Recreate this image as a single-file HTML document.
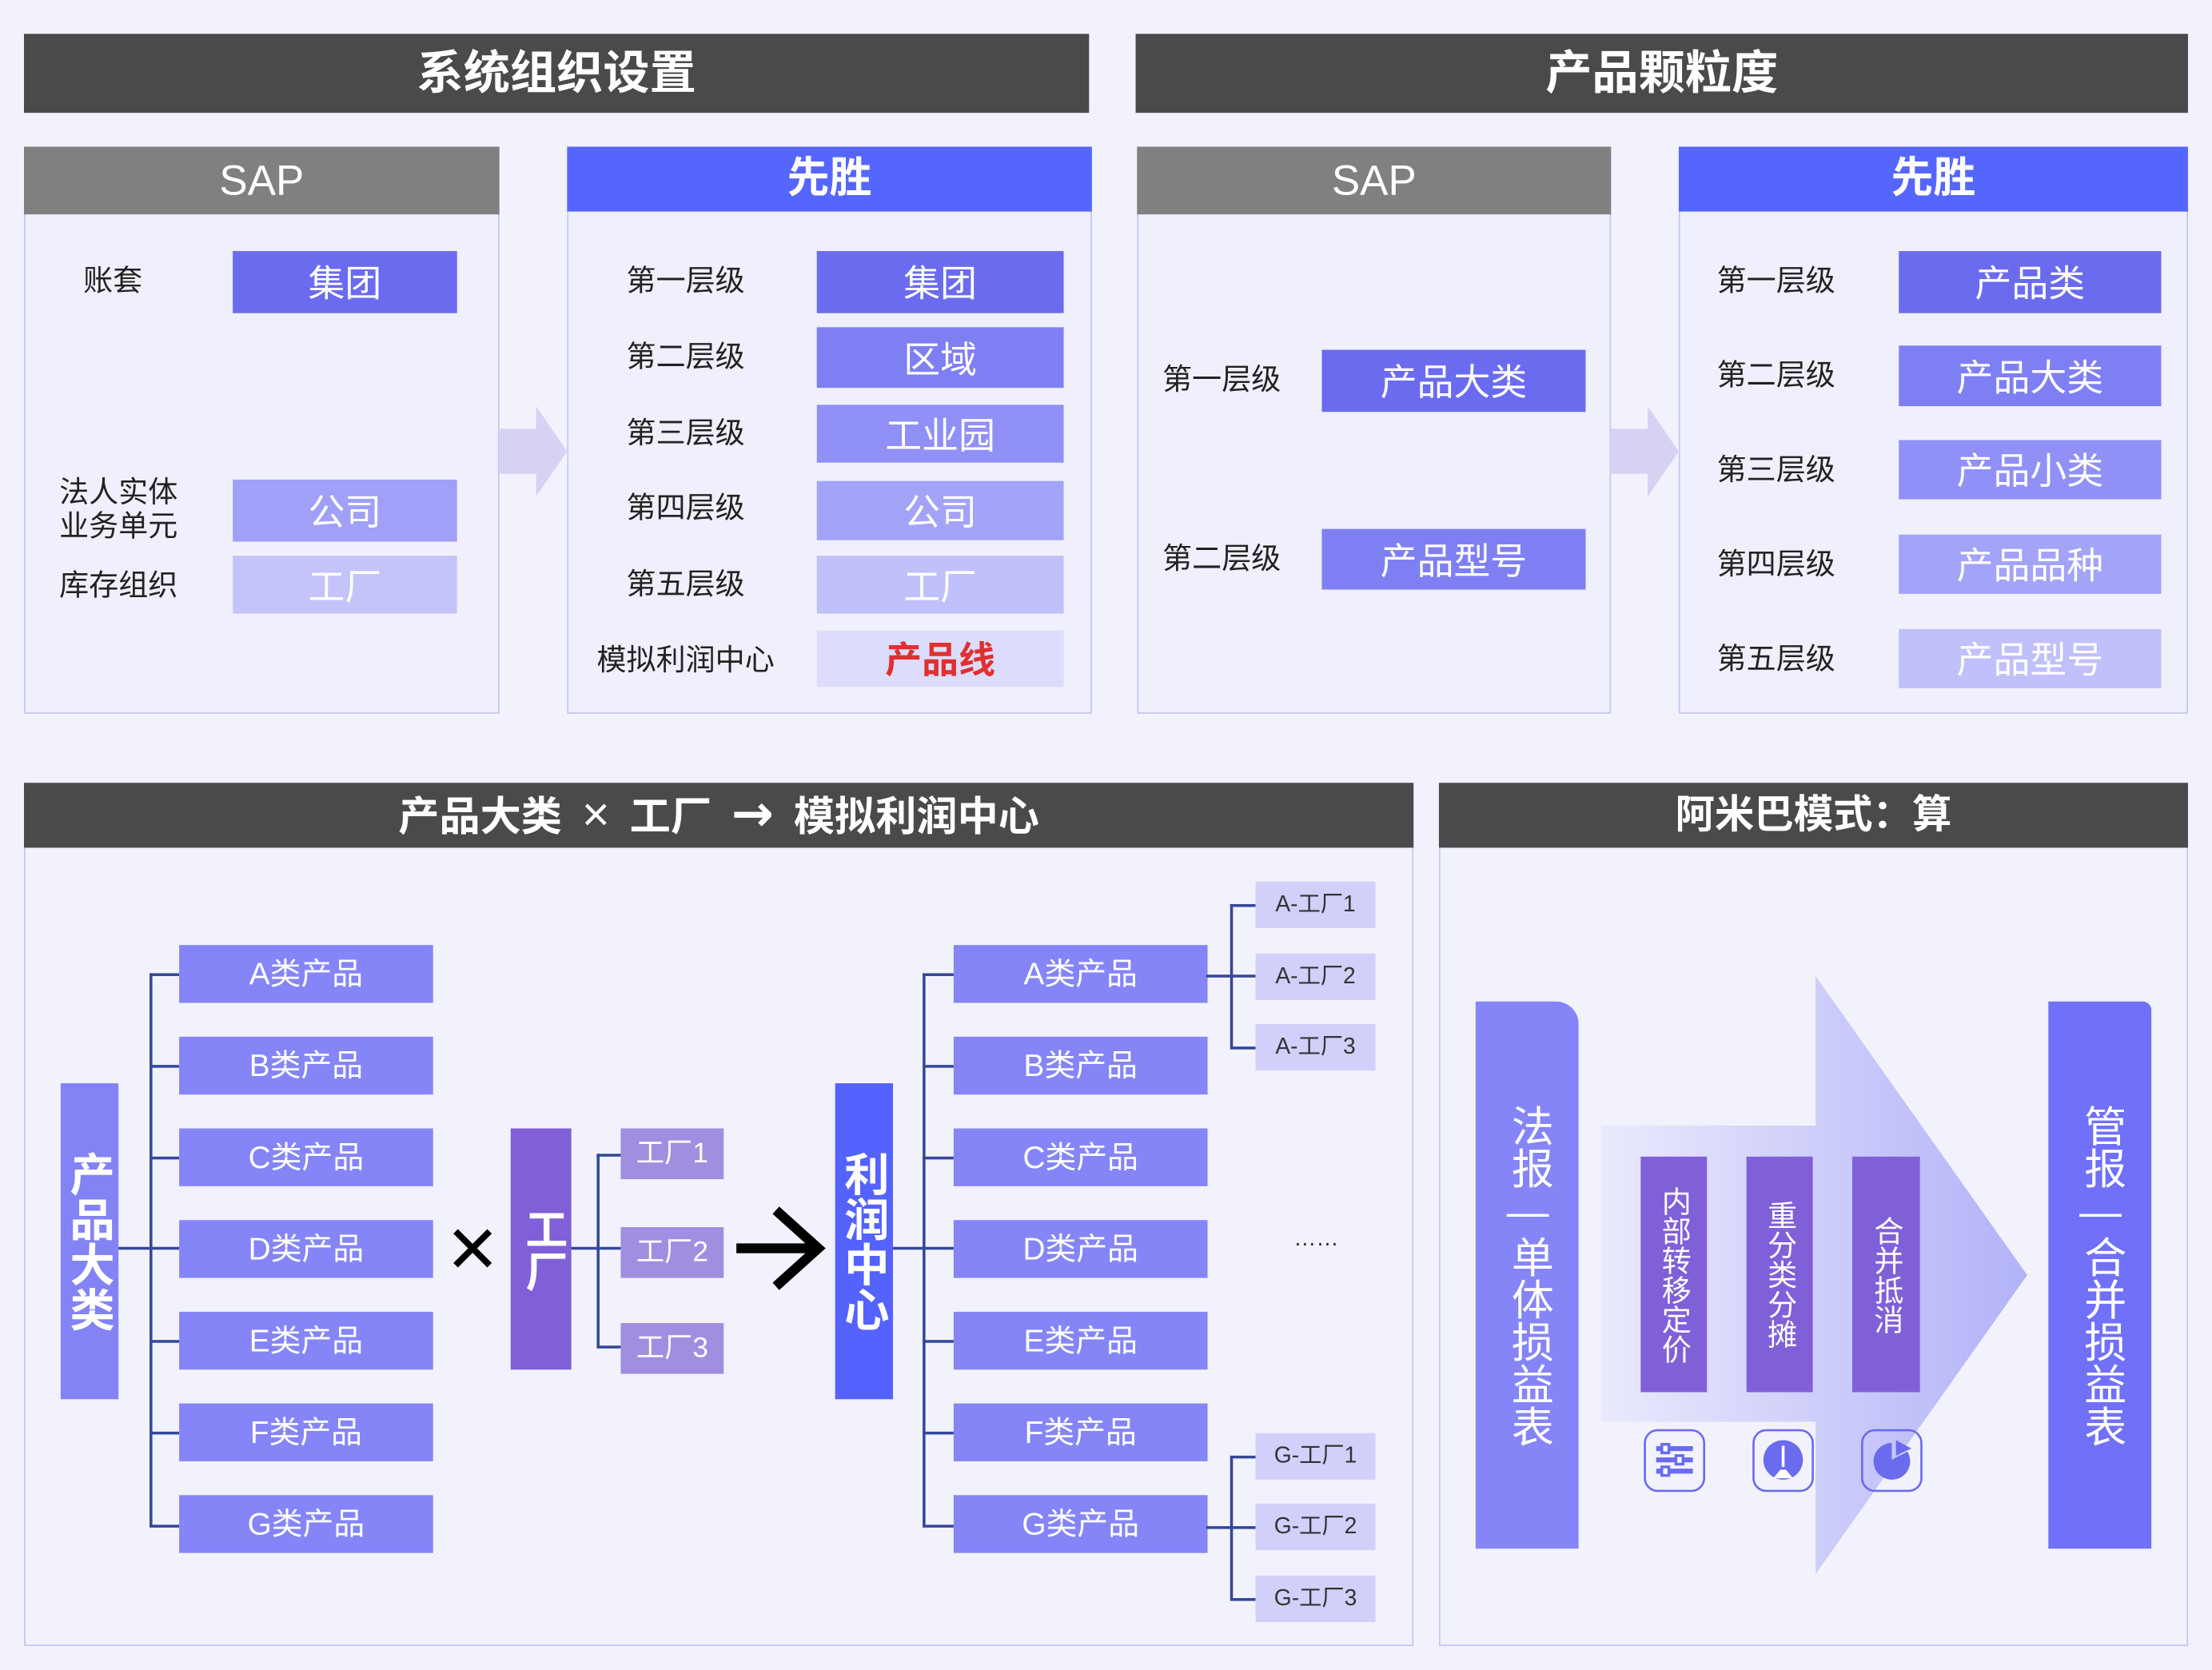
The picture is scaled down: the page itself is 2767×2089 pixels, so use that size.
<!DOCTYPE html>
<html><head><meta charset="utf-8">
<style>
html,body{margin:0;padding:0;width:2767px;height:2089px;overflow:hidden;background:#f2f2fd;}
#s{position:absolute;left:0;top:0;width:1568px;height:1184px;transform:scale(1.76467,1.7644);transform-origin:0 0;font-family:"Liberation Sans","Noto Sans CJK SC",sans-serif;}
#s div{position:absolute;box-sizing:border-box;}
.hd{background:#4a4a4c;color:#fff;font-weight:bold;text-align:center;}
.pn{background:#f0f0fc;border:1.5px solid #c6c6f2;}
.ph{color:#fff;text-align:center;}
.lb{font-size:21px;color:#222;text-align:center;line-height:24px;}
.bx{color:#fff;text-align:center;font-size:26px;}
.vt{writing-mode:vertical-rl;text-orientation:upright;color:#fff;display:flex;align-items:center;justify-content:center;}
.pb{background:#8585f8;color:#fff;font-size:22px;text-align:center;line-height:41px;height:41px;width:180px;}
.fb{background:#d0d0fa;color:#333;font-size:16px;text-align:center;line-height:33px;height:33px;width:85px;left:890px;}
.ln{background:#34479a;}
</style></head><body><div id="s">
<div class="hd" style="left:17px;top:24px;width:755px;height:56px;line-height:56px;font-size:33px;">系统组织设置</div>
<div class="hd" style="left:805px;top:24px;width:746px;height:56px;line-height:56px;font-size:33px;">产品颗粒度</div>

<div class="pn" style="left:17px;top:104px;width:337px;height:402px;"></div>
<div class="ph" style="left:17px;top:104px;width:337px;height:48px;line-height:50px;background:#808080;font-size:30px;">SAP</div>
<div class="lb" style="left:40px;top:188px;width:80px;">账套</div>
<div class="bx" style="left:165px;top:178px;width:159px;height:44px;line-height:46px;background:#6b6bf0;">集团</div>
<div class="lb" style="left:30px;top:338px;width:108px;line-height:24px;">法人实体<br>业务单元</div>
<div class="bx" style="left:165px;top:340px;width:159px;height:44px;line-height:46px;background:#a0a0f8;">公司</div>
<div class="lb" style="left:30px;top:404px;width:108px;">库存组织</div>
<div class="bx" style="left:165px;top:394px;width:159px;height:41px;line-height:44px;background:#c4c4fa;">工厂</div>

<svg style="position:absolute;left:354px;top:288px" width="48" height="64"><polygon points="0,16 26,16 26,0 48,32 26,64 26,48 0,48" fill="#d6d2f4"/></svg>

<div class="pn" style="left:402px;top:104px;width:372px;height:402px;"></div>
<div class="ph" style="left:402px;top:104px;width:372px;height:46px;line-height:46px;background:#5566ff;font-size:30px;font-weight:bold;">先胜</div>
<div class="lb" style="left:410px;top:188px;width:152px;">第一层级</div>
<div class="lb" style="left:410px;top:242px;width:152px;">第二层级</div>
<div class="lb" style="left:410px;top:296px;width:152px;">第三层级</div>
<div class="lb" style="left:410px;top:349px;width:152px;">第四层级</div>
<div class="lb" style="left:410px;top:403px;width:152px;">第五层级</div>
<div class="lb" style="left:410px;top:457px;width:152px;">模拟利润中心</div>
<div class="bx" style="left:579px;top:178px;width:175px;height:44px;line-height:46px;background:#6b6bf0;">集团</div>
<div class="bx" style="left:579px;top:232px;width:175px;height:43px;line-height:46px;background:#7f7ff4;">区域</div>
<div class="bx" style="left:579px;top:287px;width:175px;height:41px;line-height:44px;background:#9090f6;">工业园</div>
<div class="bx" style="left:579px;top:341px;width:175px;height:42px;line-height:45px;background:#a3a3f8;">公司</div>
<div class="bx" style="left:579px;top:394px;width:175px;height:41px;line-height:44px;background:#c0c0fa;">工厂</div>
<div class="bx" style="left:579px;top:447px;width:175px;height:40px;line-height:42px;background:#dcdcfc;color:#e03030;font-weight:bold;">产品线</div>

<div class="pn" style="left:806px;top:104px;width:336px;height:402px;"></div>
<div class="ph" style="left:806px;top:104px;width:336px;height:48px;line-height:50px;background:#808080;font-size:30px;">SAP</div>
<div class="lb" style="left:812px;top:258px;width:108px;">第一层级</div>
<div class="bx" style="left:937px;top:248px;width:187px;height:44px;line-height:46px;background:#6b6bf0;">产品大类</div>
<div class="lb" style="left:812px;top:385px;width:108px;">第二层级</div>
<div class="bx" style="left:937px;top:375px;width:187px;height:43px;line-height:46px;background:#7f7ff4;">产品型号</div>

<svg style="position:absolute;left:1142px;top:288px" width="48" height="64"><polygon points="0,16 26,16 26,0 48,32 26,64 26,48 0,48" fill="#d6d2f4"/></svg>

<div class="pn" style="left:1190px;top:104px;width:361px;height:402px;"></div>
<div class="ph" style="left:1190px;top:104px;width:361px;height:46px;line-height:46px;background:#5566ff;font-size:30px;font-weight:bold;">先胜</div>
<div class="lb" style="left:1205px;top:188px;width:108px;">第一层级</div>
<div class="lb" style="left:1205px;top:255px;width:108px;">第二层级</div>
<div class="lb" style="left:1205px;top:322px;width:108px;">第三层级</div>
<div class="lb" style="left:1205px;top:389px;width:108px;">第四层级</div>
<div class="lb" style="left:1205px;top:456px;width:108px;">第五层级</div>
<div class="bx" style="left:1346px;top:178px;width:186px;height:44px;line-height:46px;background:#6b6bf0;">产品类</div>
<div class="bx" style="left:1346px;top:245px;width:186px;height:43px;line-height:46px;background:#7f7ff4;">产品大类</div>
<div class="bx" style="left:1346px;top:312px;width:186px;height:42px;line-height:45px;background:#9090f6;">产品小类</div>
<div class="bx" style="left:1346px;top:379px;width:186px;height:42px;line-height:45px;background:#a3a3f8;">产品品种</div>
<div class="bx" style="left:1346px;top:446px;width:186px;height:42px;line-height:45px;background:#c0c0fa;">产品型号</div>

<div class="pn" style="left:17px;top:555px;width:985px;height:612px;background:#f2f2fd;"></div>
<div class="hd" style="left:17px;top:555px;width:985px;height:46px;line-height:46px;font-size:29px;word-spacing:6px;">产品大类 <span style="font-size:34px;font-weight:normal;">×</span> 工厂 <span style="font-family:'DejaVu Sans';font-size:36px;">→</span> 模拟利润中心</div>

<div class="vt" style="left:43px;top:768px;width:41px;height:224px;background:#8383f5;font-size:32px;font-weight:bold;">产品大类</div>
<div class="ln" style="left:84px;top:884px;width:43px;height:1.5px;"></div>
<div class="ln" style="left:106px;top:690px;width:1.5px;height:392px;"></div>
<div class="ln" style="left:106px;top:690px;width:21px;height:1.5px;"></div>
<div class="ln" style="left:106px;top:755px;width:21px;height:1.5px;"></div>
<div class="ln" style="left:106px;top:820px;width:21px;height:1.5px;"></div>
<div class="ln" style="left:106px;top:950px;width:21px;height:1.5px;"></div>
<div class="ln" style="left:106px;top:1015px;width:21px;height:1.5px;"></div>
<div class="ln" style="left:106px;top:1081px;width:21px;height:1.5px;"></div>
<div class="pb" style="left:127px;top:670px;">A类产品</div>
<div class="pb" style="left:127px;top:735px;">B类产品</div>
<div class="pb" style="left:127px;top:800px;">C类产品</div>
<div class="pb" style="left:127px;top:865px;">D类产品</div>
<div class="pb" style="left:127px;top:930px;">E类产品</div>
<div class="pb" style="left:127px;top:995px;">F类产品</div>
<div class="pb" style="left:127px;top:1060px;">G类产品</div>

<svg style="position:absolute;left:320px;top:870px" width="30" height="30"><path d="M3,3 L27,27 M27,3 L3,27" stroke="#000" stroke-width="4.5"/></svg>
<div class="vt" style="left:362px;top:800px;width:43px;height:171px;background:#8060d8;font-size:30px;font-weight:bold;">工厂</div>
<div class="ln" style="left:405px;top:884px;width:35px;height:1.5px;"></div>
<div class="ln" style="left:423px;top:818px;width:1.5px;height:137px;"></div>
<div class="ln" style="left:423px;top:818px;width:17px;height:1.5px;"></div>
<div class="ln" style="left:423px;top:954px;width:17px;height:1.5px;"></div>
<div style="left:440px;top:800px;width:73px;height:36px;line-height:37px;background:#a08ee0;color:#fff;font-size:20px;text-align:center;">工厂1</div>
<div style="left:440px;top:870px;width:73px;height:36px;line-height:37px;background:#a08ee0;color:#fff;font-size:20px;text-align:center;">工厂2</div>
<div style="left:440px;top:938px;width:73px;height:36px;line-height:37px;background:#a08ee0;color:#fff;font-size:20px;text-align:center;">工厂3</div>
<svg style="position:absolute;left:520px;top:855px" width="66" height="60"><path d="M2,30 L58,30 M30,3 L60,30 L30,57" stroke="#000" stroke-width="7" fill="none"/></svg>
<div class="vt" style="left:592px;top:768px;width:41px;height:224px;background:#5462ff;font-size:32px;font-weight:bold;">利润中心</div>
<div class="ln" style="left:633px;top:884px;width:43px;height:1.5px;"></div>
<div class="ln" style="left:654px;top:690px;width:1.5px;height:392px;"></div>
<div class="ln" style="left:654px;top:690px;width:22px;height:1.5px;"></div>
<div class="ln" style="left:654px;top:755px;width:22px;height:1.5px;"></div>
<div class="ln" style="left:654px;top:820px;width:22px;height:1.5px;"></div>
<div class="ln" style="left:654px;top:950px;width:22px;height:1.5px;"></div>
<div class="ln" style="left:654px;top:1015px;width:22px;height:1.5px;"></div>
<div class="ln" style="left:654px;top:1081px;width:22px;height:1.5px;"></div>
<div class="pb" style="left:676px;top:670px;">A类产品</div>
<div class="pb" style="left:676px;top:735px;">B类产品</div>
<div class="pb" style="left:676px;top:800px;">C类产品</div>
<div class="pb" style="left:676px;top:865px;">D类产品</div>
<div class="pb" style="left:676px;top:930px;">E类产品</div>
<div class="pb" style="left:676px;top:995px;">F类产品</div>
<div class="pb" style="left:676px;top:1060px;">G类产品</div>

<div class="ln" style="left:855px;top:691px;width:35px;height:1.5px;"></div>
<div class="ln" style="left:872px;top:641px;width:1.5px;height:102px;"></div>
<div class="ln" style="left:872px;top:641px;width:18px;height:1.5px;"></div>
<div class="ln" style="left:872px;top:742px;width:18px;height:1.5px;"></div>
<div class="fb" style="top:625px;">A-工厂1</div>
<div class="fb" style="top:676px;">A-工厂2</div>
<div class="fb" style="top:726px;">A-工厂3</div>
<div class="ln" style="left:855px;top:1082px;width:35px;height:1.5px;"></div>
<div class="ln" style="left:872px;top:1032px;width:1.5px;height:102px;"></div>
<div class="ln" style="left:872px;top:1032px;width:18px;height:1.5px;"></div>
<div class="ln" style="left:872px;top:1133px;width:18px;height:1.5px;"></div>
<div class="fb" style="top:1016px;">G-工厂1</div>
<div class="fb" style="top:1066px;">G-工厂2</div>
<div class="fb" style="top:1117px;">G-工厂3</div>
<div style="left:905px;top:870px;width:56px;text-align:center;font-size:16px;color:#333;">……</div>

<div class="pn" style="left:1020px;top:555px;width:531px;height:612px;background:#f2f2fd;"></div>
<div class="hd" style="left:1020px;top:555px;width:531px;height:46px;line-height:46px;font-size:28px;">阿米巴模式：算</div>
<svg style="position:absolute;left:1130px;top:690px" width="312" height="428">
<defs><linearGradient id="g" x1="0" x2="1" y1="0" y2="0"><stop offset="0" stop-color="#eaeafc"/><stop offset="1" stop-color="#b2b2f8"/></linearGradient></defs>
<polygon points="5,108 157,108 157,2 307,214 157,426 157,318 5,318" fill="url(#g)"/>
</svg>
<div class="vt" style="left:1046px;top:710px;width:73px;height:388px;background:#8585f8;border-top-right-radius:16px;font-size:30px;">法报—单体损益表</div>
<div class="vt" style="left:1452px;top:710px;width:73px;height:388px;background:#7070f8;border-top-right-radius:6px;font-size:30px;">管报—合并损益表</div>
<div class="vt" style="left:1163px;top:820px;width:47px;height:167px;background:#8060d8;font-size:21px;">内部转移定价</div>
<div class="vt" style="left:1238px;top:820px;width:47px;height:167px;background:#8060d8;font-size:21px;">重分类分摊</div>
<div class="vt" style="left:1313px;top:820px;width:48px;height:167px;background:#8060d8;font-size:21px;">合并抵消</div>
<svg style="position:absolute;left:1160px;top:1012px" width="210" height="48">
<g fill="none" stroke="#6b6bf0" stroke-width="1.5"><rect x="6" y="2" width="42" height="43" rx="9"/><rect x="83" y="2" width="42" height="43" rx="9"/><rect x="160" y="2" width="42" height="43" rx="9"/></g>
<g stroke="#6b6bf0" stroke-width="3.5"><line x1="14" y1="15" x2="40" y2="15"/><line x1="14" y1="23" x2="40" y2="23"/><line x1="14" y1="31" x2="40" y2="31"/></g>
<g fill="#fff" stroke="#6b6bf0" stroke-width="2"><rect x="18" y="12" width="5" height="6"/><rect x="28" y="20" width="5" height="6"/><rect x="18" y="28" width="5" height="6"/></g>
<circle cx="104" cy="23" r="14" fill="#6b6bf0"/><path d="M97,36 L111,36 L106,30 L102,30Z" fill="#fff"/><line x1="104" y1="13" x2="104" y2="28" stroke="#fff" stroke-width="2"/>
<path d="M181,23 L181,11 A13,13 0 1 0 192,17 Z" fill="#6b6bf0"/><path d="M184,9 L195,15 L184,20Z" fill="#6b6bf0"/>
</svg>
</div></body></html>
